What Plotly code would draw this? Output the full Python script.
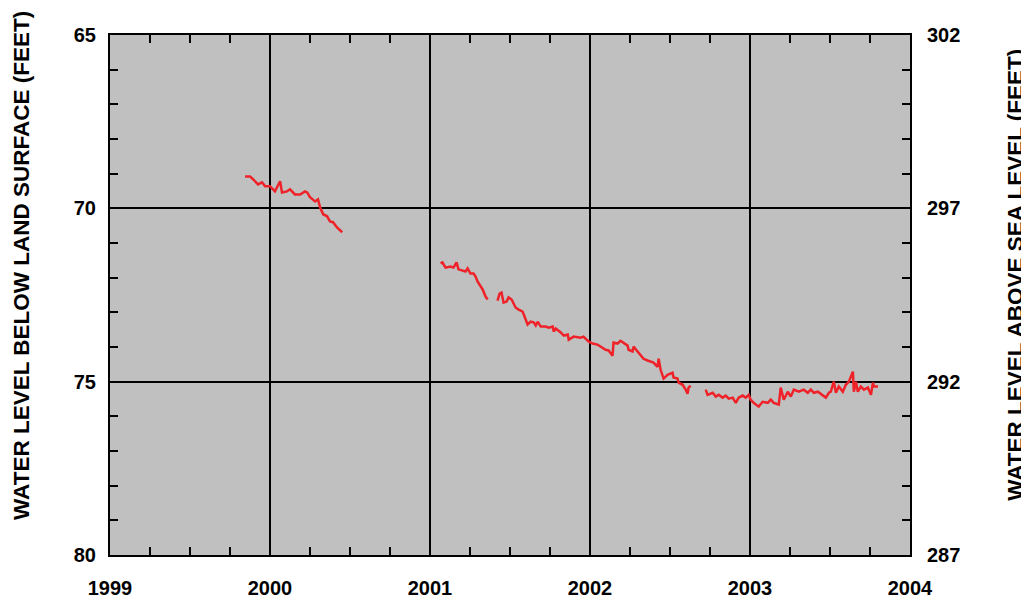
import plotly.graph_objects as go

# Decimal year and depth below land surface (feet); None marks gaps in the record
years = [
    1999.844, 1999.875, 1999.894, 1999.925, 1999.950, 1999.969, 2000.000, 2000.031,
    2000.063, 2000.075, 2000.106, 2000.125, 2000.156, 2000.188, 2000.219, 2000.232,
    2000.250, 2000.282, 2000.300, 2000.313, 2000.332, 2000.357, 2000.375, 2000.394,
    2000.419, 2000.451,
    None,
    2001.066, 2001.078, 2001.097, 2001.128, 2001.147, 2001.166, 2001.178, 2001.203,
    2001.222, 2001.235, 2001.253, 2001.272, 2001.285, 2001.297, 2001.316, 2001.329,
    2001.347, 2001.360,
    None,
    2001.422, 2001.435, 2001.447, 2001.460, 2001.479, 2001.491, 2001.510, 2001.523,
    2001.535, 2001.554, 2001.579, 2001.586, 2001.598, 2001.610, 2001.629, 2001.648,
    2001.661, 2001.673, 2001.692, 2001.723, 2001.742, 2001.767, 2001.773, 2001.786,
    2001.817, 2001.836, 2001.861, 2001.867, 2001.898, 2001.929, 2001.941, 2001.959,
    2001.991, 2002.016, 2002.047, 2002.078, 2002.097, 2002.116, 2002.141, 2002.147,
    2002.172, 2002.191, 2002.210, 2002.235, 2002.241, 2002.266, 2002.272, 2002.297,
    2002.304, 2002.316, 2002.335, 2002.360, 2002.379, 2002.397, 2002.422, 2002.429,
    2002.441, 2002.454, 2002.460, 2002.485, 2002.504, 2002.516, 2002.522, 2002.547,
    2002.554, 2002.579, 2002.598, 2002.610, 2002.616, 2002.629,
    None,
    2002.723, 2002.735, 2002.767, 2002.786, 2002.804, 2002.829, 2002.848, 2002.867,
    2002.892, 2002.911, 2002.929, 2002.954, 2002.973, 2002.992, 2003.004, 2003.023,
    2003.054, 2003.079, 2003.111, 2003.130, 2003.148, 2003.180, 2003.192, 2003.211,
    2003.236, 2003.255, 2003.274, 2003.305, 2003.336, 2003.361, 2003.380, 2003.399,
    2003.424, 2003.455, 2003.474, 2003.493, 2003.505, 2003.524, 2003.537, 2003.555,
    2003.580, 2003.599, 2003.618, 2003.643, 2003.649, 2003.662, 2003.674, 2003.693,
    2003.712, 2003.737, 2003.756, 2003.768, 2003.775, 2003.800,
]
depth = [
    69.08, 69.08, 69.16, 69.31, 69.25, 69.36, 69.36, 69.51,
    69.22, 69.54, 69.51, 69.45, 69.60, 69.60, 69.51, 69.54,
    69.68, 69.80, 69.74, 69.97, 70.17, 70.23, 70.38, 70.40,
    70.55, 70.69,
    None,
    71.59, 71.56, 71.71, 71.68, 71.71, 71.56, 71.76, 71.79,
    71.82, 71.73, 71.88, 71.88, 71.97, 72.11, 72.25, 72.34,
    72.54, 72.63,
    None,
    72.66, 72.46, 72.43, 72.72, 72.69, 72.57, 72.63, 72.77,
    72.86, 72.92, 72.98, 73.06, 73.21, 73.35, 73.27, 73.29,
    73.38, 73.27, 73.41, 73.41, 73.44, 73.41, 73.55, 73.47,
    73.58, 73.67, 73.64, 73.79, 73.70, 73.73, 73.73, 73.70,
    73.84, 73.90, 73.93, 74.02, 74.08, 74.10, 74.25, 73.87,
    73.90, 73.82, 73.87, 73.96, 74.08, 74.13, 73.99, 74.13,
    74.16, 74.25, 74.34, 74.39, 74.42, 74.45, 74.57, 74.34,
    74.65, 74.80, 74.91, 74.80, 74.77, 74.74, 74.88, 74.91,
    75.03, 75.09, 75.23, 75.35, 75.17, 75.12,
    None,
    75.23, 75.38, 75.32, 75.43, 75.38, 75.46, 75.40, 75.49,
    75.46, 75.61, 75.46, 75.40, 75.46, 75.38, 75.52, 75.61,
    75.72, 75.58, 75.61, 75.52, 75.61, 75.66, 75.17, 75.52,
    75.29, 75.43, 75.23, 75.29, 75.23, 75.32, 75.23, 75.32,
    75.29, 75.38, 75.46, 75.32, 75.29, 75.00, 75.32, 75.14,
    75.29, 75.09, 75.00, 74.71, 75.29, 75.00, 75.29, 75.14,
    75.23, 75.17, 75.38, 75.03, 75.14, 75.14,
]

x_ticks = [1999, 2000, 2001, 2002, 2003, 2004]
left_ticks = [65, 70, 75, 80]
right_ticks = [287, 292, 297, 302]
DATUM = 367  # land surface elevation (feet above sea level)

RED = "#ee2228"
FONT = "Liberation Sans, Arial, sans-serif"

fig = go.Figure()
fig.add_trace(go.Scatter(x=years, y=depth, mode="lines", connectgaps=False,
                         line=dict(color=RED, width=2.5), showlegend=False,
                         hoverinfo="skip"))
# invisible trace to activate right axis
fig.add_trace(go.Scatter(x=[x_ticks[0]], y=[DATUM - left_ticks[0]], yaxis="y2",
                         mode="markers", marker=dict(opacity=0), showlegend=False,
                         hoverinfo="skip"))

fig.update_layout(
    width=1021, height=593,
    margin=dict(l=102, r=119, t=27, b=46),
    paper_bgcolor="white", plot_bgcolor="#c0c0c0",
    font=dict(family=FONT, size=20, color="black"),
    xaxis=dict(range=[1999, 2004], tickvals=x_ticks, ticktext=[str(v) for v in x_ticks],
               showgrid=True, gridcolor="black", gridwidth=2,
               showline=True, linecolor="black", linewidth=2, mirror="allticks",
               ticks="inside", ticklen=8, tickwidth=2, tickcolor="black",
               minor=dict(dtick=0.25, tick0=1999, ticks="inside", ticklen=8,
                          tickwidth=2, tickcolor="black", showgrid=False),
               tickfont=dict(family=FONT, size=20, color="black", weight="bold"),
               ticklabelstandoff=14, zeroline=False, automargin=False),
    yaxis=dict(range=[80, 65], tickvals=left_ticks, ticktext=[str(v) for v in left_ticks],
               showgrid=True, gridcolor="black", gridwidth=2,
               showline=True, linecolor="black", linewidth=2, mirror="allticks",
               ticks="inside", ticklen=8, tickwidth=2, tickcolor="black",
               minor=dict(dtick=1, tick0=65, ticks="inside", ticklen=8,
                          tickwidth=2, tickcolor="black", showgrid=False),
               tickfont=dict(family=FONT, size=20, color="black", weight="bold"),
               ticklabelstandoff=8, zeroline=False, automargin=False),
    yaxis2=dict(range=[DATUM - 80, DATUM - 65], overlaying="y", side="right",
                tickvals=right_ticks, ticktext=[str(v) for v in right_ticks],
                showgrid=False, showline=False, ticks="",
                tickfont=dict(family=FONT, size=20, color="black", weight="bold"),
                ticklabelstandoff=16, zeroline=False, automargin=False),
    annotations=[
        dict(text="WATER LEVEL BELOW LAND SURFACE (FEET)", xref="paper", yref="paper",
             x=-0.11, y=0.556, textangle=-90, showarrow=False,
             font=dict(family=FONT, size=22.5, color="black", weight="bold"),
             xanchor="center", yanchor="middle"),
        dict(text="WATER LEVEL ABOVE SEA LEVEL (FEET)", xref="paper", yref="paper",
             x=1.132, y=0.538, textangle=-90, showarrow=False,
             font=dict(family=FONT, size=22.5, color="black", weight="bold"),
             xanchor="center", yanchor="middle"),
    ],
)

fig.write_html("out.html")
